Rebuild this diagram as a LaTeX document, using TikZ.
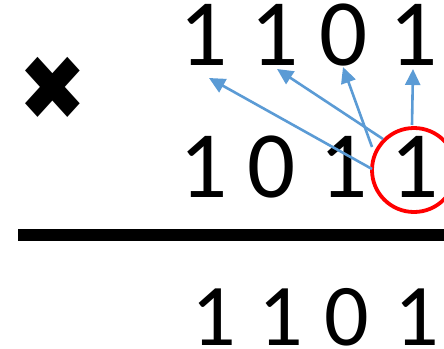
\documentclass[tikz,border=0pt]{standalone}
\usepackage{fontspec}
\setmainfont{Carlito}
\newfontfamily\symfont{DejaVu Sans}
\usetikzlibrary{arrows.meta}
\definecolor{arrowblue}{HTML}{5B9BD5}
\begin{document}
\begin{tikzpicture}[x=1pt,y=-1pt,
  bigdigit/.style={inner sep=0pt,anchor=base,font=\fontsize{95}{95}\selectfont},
  resdigit/.style={inner sep=0pt,anchor=base,font=\fontsize{88}{88}\selectfont},
  shiftarrow/.style={draw=arrowblue,line width=2.6pt,-{Triangle[length=16pt,width=15pt]}}]
\useasboundingbox (0,0) rectangle (444,348);
% top row
\node[bigdigit] (t1) at (204,65) {1};
\node[bigdigit] (t2) at (275,65) {1};
\node[bigdigit] (t3) at (343.5,65) {0};
\node[bigdigit] (t4) at (414,65) {1};
% second row
\node[bigdigit] (m1) at (204,197) {1};
\node[bigdigit] (m2) at (272,197) {0};
\node[bigdigit] (m3) at (344,197) {1};
\node[bigdigit] (m4) at (415,197) {1};
% multiplication sign
\node[inner sep=0pt,font=\symfont\fontsize{82}{82}\selectfont,yscale=-1.1,transform shape] (times) at (53,86) {✖};
% red circle
\node[draw=red,line width=3.8pt,circle,minimum size=84pt,inner sep=0pt] (ring) at (414,170) {};
% arrows
\coordinate (s1) at (372,169);
\coordinate (s2) at (383,139);
\coordinate (s3) at (372,147);
\coordinate (s4) at (412,125);
\coordinate (e1) at (209,78);
\coordinate (e2) at (277,69);
\coordinate (e3) at (343,67);
\coordinate (e4) at (413,69);
\draw[shiftarrow] (s1) -- (e1);
\draw[shiftarrow] (s2) -- (e2);
\draw[shiftarrow] (s3) -- (e3);
\draw[shiftarrow] (s4) -- (e4);
% rule
\coordinate (la) at (18,234.5);
\coordinate (lb) at (444,234.5);
\draw[line width=12pt] (la) -- (lb);
% result row
\node[resdigit] (r1) at (214,345) {1};
\node[resdigit] (r2) at (281,345) {1};
\node[resdigit] (r3) at (347,345) {0};
\node[resdigit] (r4) at (417,345) {1};
\end{tikzpicture}
\end{document}
